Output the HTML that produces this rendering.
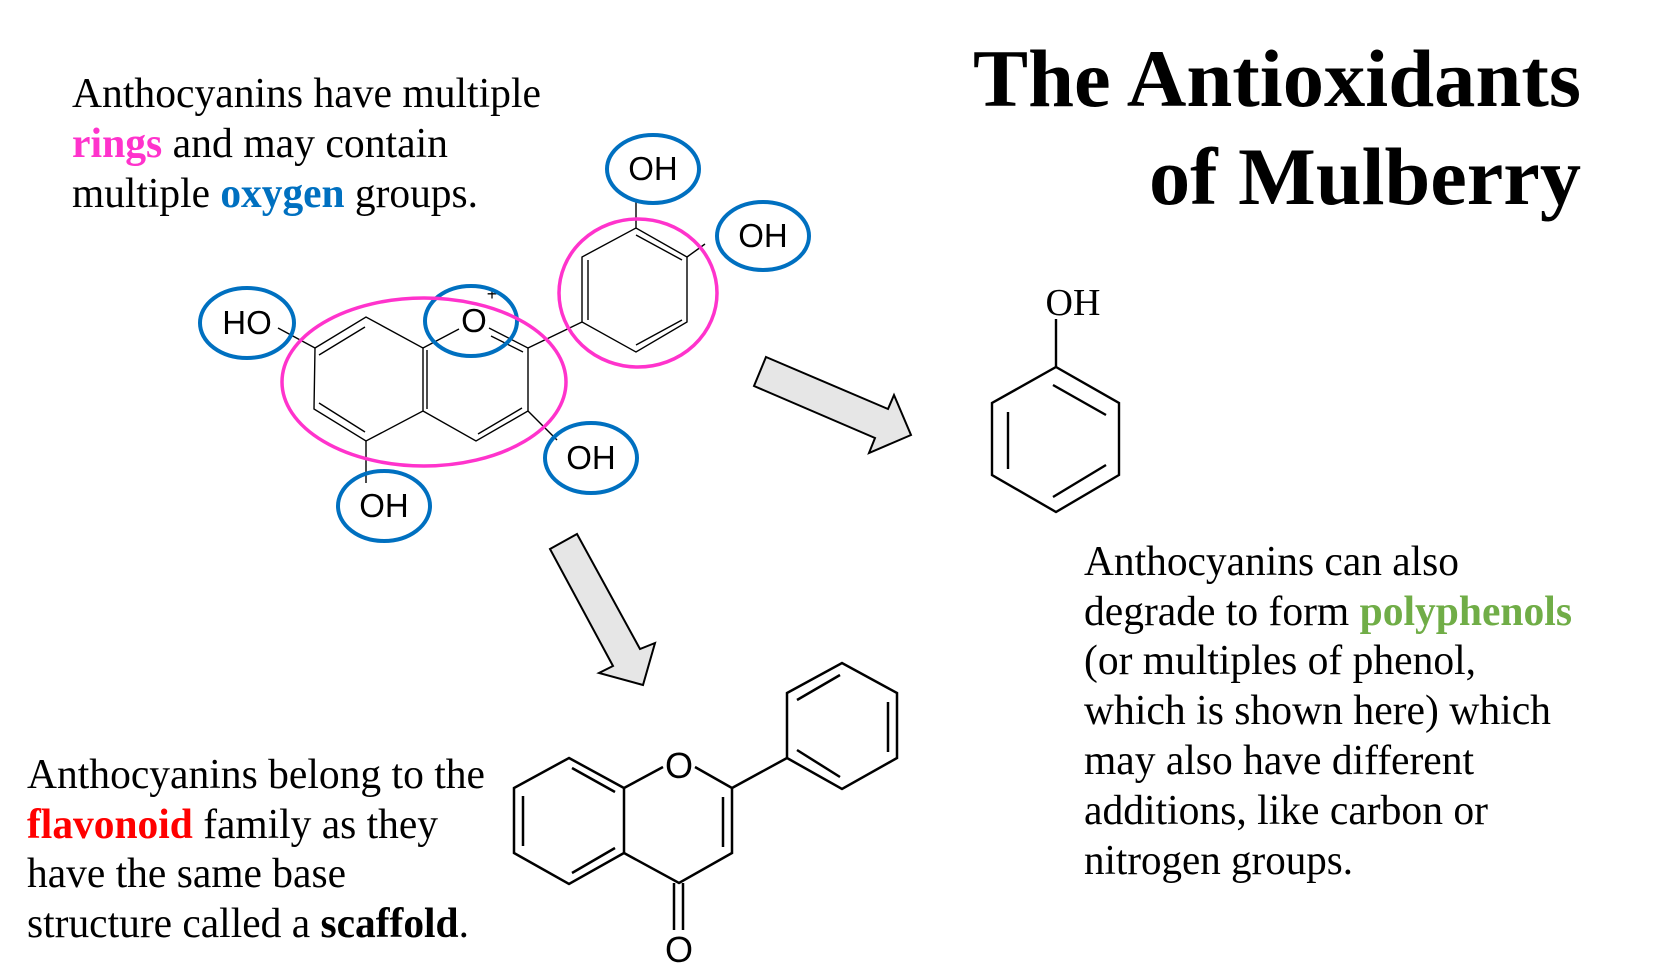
<!DOCTYPE html>
<html><head><meta charset="utf-8"><style>
html,body{margin:0;padding:0;background:#fff;}
svg{display:block;}
.s{font-family:"Liberation Serif",serif;font-size:42px;fill:#000;}
.t{font-family:"Liberation Serif",serif;font-size:82px;font-weight:bold;fill:#000;}
.l{font-family:"Liberation Sans",sans-serif;font-size:33px;fill:#000;text-anchor:middle;}
.b{font-weight:bold;}
</style></head><body>
<svg width="1654" height="972" viewBox="0 0 1654 972" xmlns="http://www.w3.org/2000/svg">
<rect width="1654" height="972" fill="#fff"/>
<!-- Title -->
<text class="t" x="1581" y="106" text-anchor="end" textLength="608" lengthAdjust="spacingAndGlyphs">The Antioxidants</text>
<text class="t" x="1581" y="204" text-anchor="end" textLength="432" lengthAdjust="spacingAndGlyphs">of Mulberry</text>

<!-- Top-left text -->
<text class="s" x="72" y="107" textLength="469" lengthAdjust="spacingAndGlyphs">Anthocyanins have multiple</text>
<text class="s" x="72" y="157" textLength="376" lengthAdjust="spacingAndGlyphs"><tspan class="b" fill="#ff33cc">rings</tspan> and may contain</text>
<text class="s" x="72" y="207" textLength="406" lengthAdjust="spacingAndGlyphs">multiple <tspan class="b" fill="#0070c0">oxygen</tspan> groups.</text>

<!-- Bottom-left text -->
<text class="s" x="27" y="788" textLength="458" lengthAdjust="spacingAndGlyphs">Anthocyanins belong to the</text>
<text class="s" x="27" y="838" textLength="411" lengthAdjust="spacingAndGlyphs"><tspan class="b" fill="#ff0000">flavonoid</tspan> family as they</text>
<text class="s" x="27" y="887" textLength="319" lengthAdjust="spacingAndGlyphs">have the same base</text>
<text class="s" x="27" y="937" textLength="442" lengthAdjust="spacingAndGlyphs">structure called a <tspan class="b">scaffold</tspan>.</text>

<!-- Right text -->
<text class="s" x="1084" y="575" textLength="375" lengthAdjust="spacingAndGlyphs">Anthocyanins can also</text>
<text class="s" x="1084" y="625" textLength="488" lengthAdjust="spacingAndGlyphs">degrade to form <tspan class="b" fill="#70ad47">polyphenols</tspan></text>
<text class="s" x="1084" y="674" textLength="392" lengthAdjust="spacingAndGlyphs">(or multiples of phenol,</text>
<text class="s" x="1084" y="724" textLength="467" lengthAdjust="spacingAndGlyphs">which is shown here) which</text>
<text class="s" x="1084" y="774" textLength="390" lengthAdjust="spacingAndGlyphs">may also have different</text>
<text class="s" x="1084" y="824" textLength="404" lengthAdjust="spacingAndGlyphs">additions, like carbon or</text>
<text class="s" x="1084" y="874" textLength="269" lengthAdjust="spacingAndGlyphs">nitrogen groups.</text>

<!-- Anthocyanin molecule -->
<g stroke="#000" stroke-width="1.4" fill="none">
  <polygon points="315,348 366,317 423,348 423,411 366,441 314,409"/>
  <line x1="319" y1="355" x2="365" y2="327"/>
  <line x1="319" y1="403" x2="365" y2="432"/>
  <line x1="427" y1="350" x2="427" y2="409"/>
  <line x1="423" y1="348" x2="459" y2="329"/>
  <polyline points="489,328 528,348 528,411 476,441 423,411"/>
  <line x1="491" y1="336" x2="523" y2="352"/>
  <line x1="478" y1="434" x2="522" y2="408"/>
  <line x1="528" y1="348" x2="582" y2="322"/>
  <polygon points="582,322 582,257 636,228 687,257 687,322 636,352"/>
  <line x1="588" y1="260" x2="588" y2="320"/>
  <line x1="636" y1="235" x2="682" y2="260"/>
  <line x1="636" y1="345" x2="682" y2="320"/>
  <line x1="636" y1="228" x2="636" y2="200"/>
  <line x1="687" y1="257" x2="705" y2="244"/>
  <line x1="278" y1="328" x2="315" y2="348"/>
  <line x1="528" y1="411" x2="557" y2="440"/>
  <line x1="366" y1="441" x2="366" y2="483"/>
</g>
<text class="l" x="474" y="332">O</text>
<text class="l" x="492" y="300" style="font-size:18px">+</text>
<text class="l" x="653" y="180">OH</text>
<text class="l" x="763" y="247">OH</text>
<text class="l" x="247" y="334">HO</text>
<text class="l" x="591" y="469">OH</text>
<text class="l" x="384" y="517">OH</text>
<g fill="none" stroke="#0070c0" stroke-width="4">
  <ellipse cx="653" cy="169" rx="46" ry="34"/>
  <ellipse cx="763" cy="236" rx="46" ry="34"/>
  <ellipse cx="247" cy="323" rx="47" ry="35"/>
  <ellipse cx="471" cy="321" rx="46" ry="35"/>
  <ellipse cx="591" cy="458" rx="46" ry="35"/>
  <ellipse cx="384" cy="506" rx="46" ry="35"/>
</g>
<g fill="none" stroke="#ff33cc" stroke-width="3.5">
  <ellipse cx="424" cy="382" rx="142" ry="84"/>
  <ellipse cx="638" cy="293" rx="79" ry="74"/>
</g>

<!-- Arrows -->
<g fill="#e6e6e6" stroke="#000" stroke-width="2" stroke-linejoin="miter">
  <polygon points="766,357 888,409 894,395 911,435 869,453 875,438 754,386"/>
  <polygon points="550,549 577,534 640,649 655,643 643,685 599,673 613,666"/>
</g>

<!-- Phenol -->
<g stroke="#000" stroke-width="2.4" fill="none">
  <line x1="1056" y1="319" x2="1056" y2="367"/>
  <polygon points="1056,367 1119,403 1119,475 1056,512 992,475 992,403"/>
  <line x1="1053" y1="385" x2="1106" y2="415"/>
  <line x1="1008" y1="412" x2="1008" y2="469"/>
  <line x1="1053" y1="497" x2="1106" y2="465"/>
</g>
<text x="1073" y="315" text-anchor="middle" style="font-family:'Liberation Serif',serif;font-size:38px">OH</text>

<!-- Flavone -->
<g stroke="#000" stroke-width="2.5" fill="none">
  <polygon points="569,758 624,788 624,853 569,884 514,853 514,788"/>
  <line x1="523" y1="796" x2="523" y2="846"/>
  <line x1="572" y1="768" x2="615" y2="792"/>
  <line x1="572" y1="873" x2="615" y2="848"/>
  <line x1="624" y1="788" x2="663" y2="767"/>
  <polyline points="695,767 732,788 732,853 679,883 624,853"/>
  <line x1="723" y1="797" x2="723" y2="847"/>
  <line x1="674" y1="883" x2="674" y2="930"/>
  <line x1="683" y1="883" x2="683" y2="930"/>
  <line x1="732" y1="788" x2="787" y2="758"/>
  <polygon points="787,758 787,693 842,663 897,693 897,758 842,789"/>
  <line x1="797" y1="700" x2="840" y2="675"/>
  <line x1="888" y1="702" x2="888" y2="752"/>
  <line x1="797" y1="750" x2="840" y2="777"/>
</g>
<text class="l" x="679" y="778" style="font-size:36px">O</text>
<text class="l" x="679" y="962" style="font-size:36px">O</text>
</svg>
</body></html>
